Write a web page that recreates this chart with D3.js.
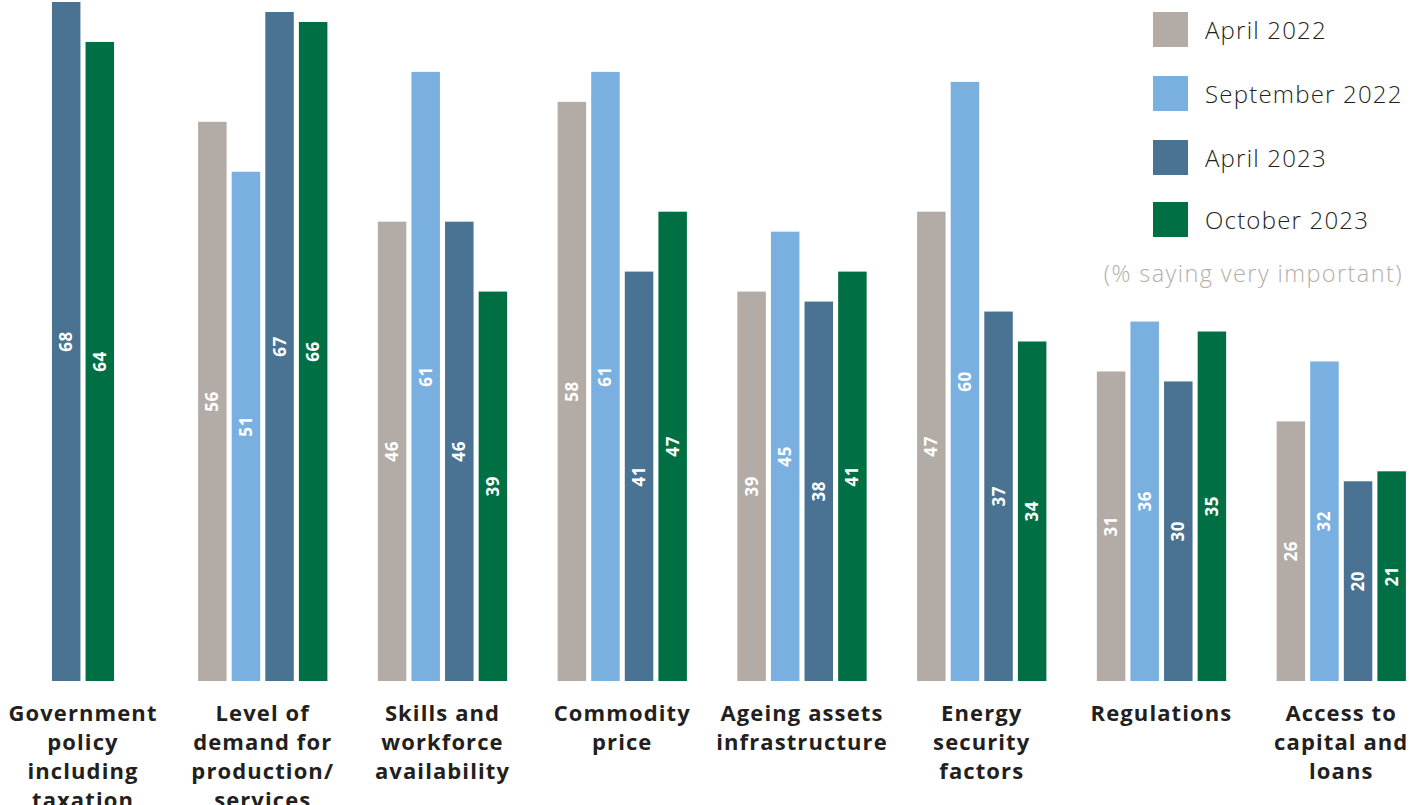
<!DOCTYPE html>
<html>
<head>
<meta charset="utf-8">
<script src="https://cdn.jsdelivr.net/npm/d3@7"></script>
<style>
  html, body { margin: 0; padding: 0; background: #ffffff; }
  svg { display: block; }
</style>
</head>
<body>
<svg id="chart" width="1423" height="805"></svg>
<script>
// Survey results: share of respondents rating each factor "very important"
const categories = [
  "Government policy including taxation",
  "Level of demand for production/services",
  "Skills and workforce availability",
  "Commodity price",
  "Ageing assets infrastructure",
  "Energy security factors",
  "Regulations",
  "Access to capital and loans"
];
const categoryLines = [
  ["Government", "policy", "including", "taxation"],
  ["Level of", "demand for", "production/", "services"],
  ["Skills and", "workforce", "availability"],
  ["Commodity", "price"],
  ["Ageing assets", "infrastructure"],
  ["Energy", "security", "factors"],
  ["Regulations"],
  ["Access to", "capital and", "loans"]
];
const seriesNames = ["April 2022", "September 2022", "April 2023", "October 2023"];
const april2022     = [null, 56, 46, 58, 39, 47, 31, 26];
const september2022 = [null, 51, 61, 61, 45, 60, 36, 32];
const april2023     = [68, 67, 46, 41, 38, 37, 30, 20];
const october2023   = [64, 66, 39, 47, 41, 34, 35, 21];
const seriesValues = [april2022, september2022, april2023, october2023];
const seriesColors = ["#b3aca6", "#7ab0e0", "#4a7393", "#006f44"];
const noteText = "(% saying very important)";

const svg = d3.select("#chart");
const baseline = 681;
const font = "'Open Sans', sans-serif";

const x = d3.scaleBand()
  .domain(categories)
  .range([0, 1438])
  .paddingInner(0)
  .paddingOuter(0);

const y = d3.scaleLinear().domain([0, 68]).range([baseline, 2]);

const barStep = 33.6;
const barWidth = 28.5;

// Bars: the series present in a category sit centred inside its band
categories.forEach((cat, ci) => {
  const present = seriesValues
    .map((vals, si) => ({ si, v: vals[ci] }))
    .filter(d => d.v != null);
  const groupCenter = x(cat) + 83;
  const g = svg.append("g").attr("class", "group");
  present.forEach((d, k) => {
    const cx = groupCenter + (k - (present.length - 1) / 2) * barStep;
    g.append("rect")
      .attr("x", cx - barWidth / 2)
      .attr("y", y(d.v))
      .attr("width", barWidth)
      .attr("height", baseline - y(d.v))
      .attr("fill", seriesColors[d.si]);
    const cy = (y(d.v) + baseline) / 2;
    g.append("text")
      .attr("transform", `translate(${cx + 6},${cy}) rotate(-90)`)
      .attr("text-anchor", "middle")
      .attr("font-family", font)
      .attr("font-weight", 700)
      .attr("font-size", 17)
      .attr("letter-spacing", 0.6)
      .attr("fill", "#ffffff")
      .text(d.v);
  });

  // Category label under the bars
  const lbl = svg.append("text")
    .attr("text-anchor", "middle")
    .attr("font-family", font)
    .attr("font-weight", 700)
    .attr("font-size", 22)
    .attr("letter-spacing", 1.1)
    .attr("fill", "#231f20");
  categoryLines[ci].forEach((line, li) => {
    lbl.append("tspan")
      .attr("x", groupCenter)
      .attr("y", 721 + li * 29)
      .text(line);
  });
});

// Legend
const legend = svg.append("g").attr("class", "legend");
const legendY = [12, 76, 140, 202];
seriesNames.forEach((name, i) => {
  legend.append("rect")
    .attr("x", 1153)
    .attr("y", legendY[i])
    .attr("width", 35)
    .attr("height", 35)
    .attr("fill", seriesColors[i]);
  legend.append("text")
    .attr("x", 1205)
    .attr("y", legendY[i] + 27)
    .attr("font-family", font)
    .attr("font-weight", 300)
    .attr("font-size", 24)
    .attr("letter-spacing", 1.2)
    .attr("fill", "#231f20")
    .text(name);
});
legend.append("text")
  .attr("x", 1403)
  .attr("y", 282)
  .attr("text-anchor", "end")
  .attr("font-family", font)
  .attr("font-weight", 300)
  .attr("font-size", 23.5)
  .attr("letter-spacing", 1.4)
  .attr("fill", "#b5aea8")
  .text(noteText);
</script>
</body>
</html>
